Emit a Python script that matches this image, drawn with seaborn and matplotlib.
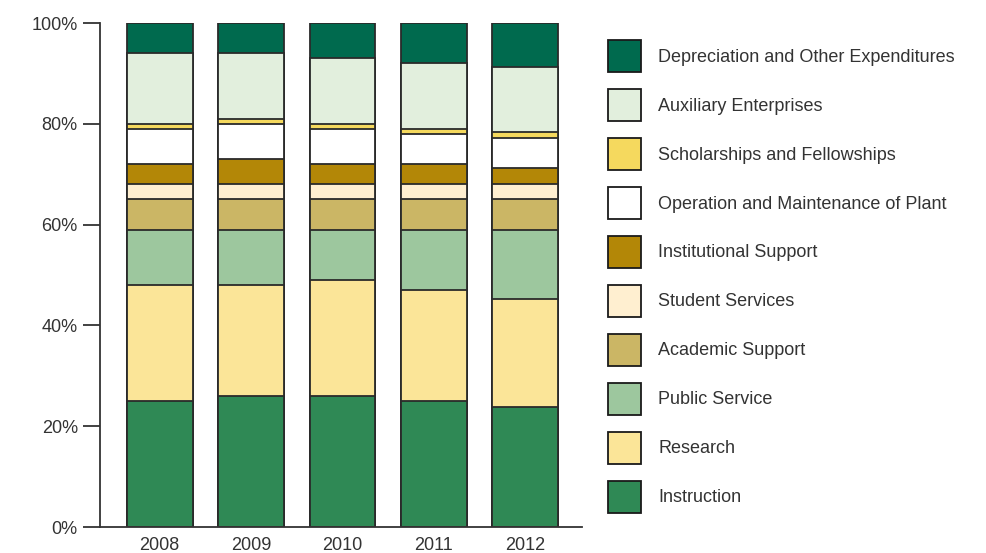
import matplotlib
matplotlib.use("Agg")
import matplotlib.pyplot as plt
import seaborn as sns
import numpy as np
import pandas as pd
from matplotlib.patches import Patch

years = ["2008", "2009", "2010", "2011", "2012"]

# bottom-to-top stacking order
categories = [
    "Instruction",
    "Research",
    "Public Service",
    "Academic Support",
    "Student Services",
    "Institutional Support",
    "Operation and Maintenance of Plant",
    "Scholarships and Fellowships",
    "Auxiliary Enterprises",
    "Depreciation and Other Expenditures",
]

instruction = [25, 26, 26, 25, 23.8]
research = [23, 22, 23, 22, 21.4]
public_service = [11, 11, 10, 12, 13.8]
academic_support = [6, 6, 6, 6, 6.0]
student_services = [3, 3, 3, 3, 3.1]
institutional_support = [4, 5, 4, 4, 3.2]
operation_maintenance = [7, 7, 7, 6, 5.9]
scholarships = [1, 1, 1, 1, 1.1]
auxiliary = [14, 13, 13, 13, 13.0]
depreciation = [6, 6, 7, 8, 8.7]

series = [instruction, research, public_service, academic_support, student_services,
          institutional_support, operation_maintenance, scholarships, auxiliary, depreciation]

colors = ["#2F8955", "#FBE598", "#9DC79E", "#CBB665", "#FFEFD0",
          "#B38707", "#FFFFFF", "#F5D95E", "#E2EFDD", "#006A4E"]

sns.set_theme(style="white")
plt.rcParams["font.family"] = ["Liberation Sans", "DejaVu Sans"]

fig = plt.figure(figsize=(9.87, 5.53), dpi=100)
ax = fig.add_axes([100 / 987, 26 / 553, 482 / 987, 504 / 553])

cum = np.cumsum(np.array(series), axis=0)
# draw tallest cumulative first so smaller ones overlay
for i in range(len(categories) - 1, -1, -1):
    df = pd.DataFrame({"year": years, "value": cum[i]})
    sns.barplot(data=df, x="year", y="value", color=colors[i], saturation=1,
                width=0.72, edgecolor="#2a2a2a", linewidth=1.3, ax=ax)

ax.set_ylim(0, 100)
ax.set_xlim(-0.652, 4.62)
ax.set_yticks([0, 20, 40, 60, 80, 100])
ax.set_yticklabels(["0%", "20%", "40%", "60%", "80%", "100%"])
ax.set_xlabel("")
ax.set_ylabel("")
for s in ["top", "right"]:
    ax.spines[s].set_visible(False)
for s in ["left", "bottom"]:
    ax.spines[s].set_color("#333333")
    ax.spines[s].set_linewidth(1.3)
ax.tick_params(axis="y", direction="out", length=12, width=1.3, color="#333333",
               pad=4, labelsize=13, labelcolor="#333333", left=True)
ax.tick_params(axis="x", length=0, pad=7, labelsize=13, labelcolor="#333333")

legend_handles = [Patch(facecolor=colors[i], edgecolor="#1a1a1a", linewidth=1.3)
                  for i in range(len(categories) - 1, -1, -1)]
legend_labels = [categories[i] for i in range(len(categories) - 1, -1, -1)]
leg = fig.legend(legend_handles, legend_labels, loc="upper left",
                 bbox_to_anchor=(608 / 987, 1 - 40 / 553), frameon=False,
                 fontsize=13, handlelength=1.83, handleheight=2.35,
                 labelspacing=0.94, handletextpad=0.94, borderaxespad=0,
                 borderpad=0)
for t in leg.get_texts():
    t.set_color("#333333")

fig.savefig("out.png", dpi=100)
